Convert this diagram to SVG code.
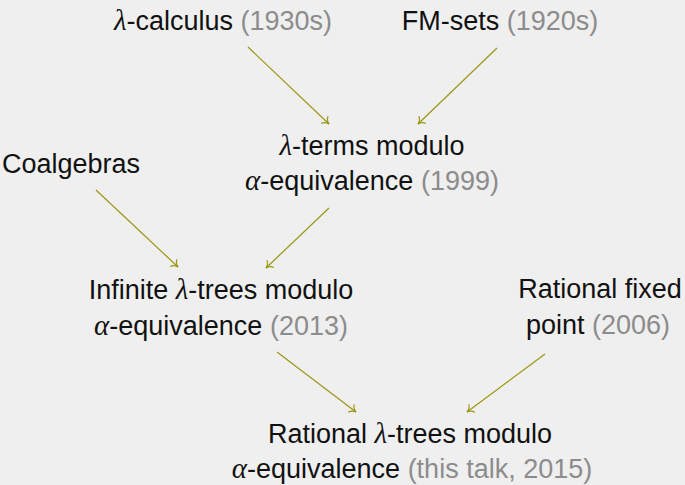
<svg xmlns="http://www.w3.org/2000/svg" width="685" height="485" viewBox="0 0 685 485">
<style>
text{font-family:"Liberation Sans",Arial,sans-serif;font-size:27px;fill:#111;text-anchor:middle}
.m{font-family:"Liberation Serif","Times New Roman",serif;font-style:italic;font-size:29px}
.g{fill:#8c8c8c}
.e{fill:none;stroke:#9c9614;stroke-width:1.2;marker-end:url(#to)}
</style>
<defs>
<marker id="to" viewBox="-8 -6 10 12" refX="0" refY="0" markerWidth="10" markerHeight="12" markerUnits="userSpaceOnUse" orient="auto">
<path d="M-6,-5 C-5,-2 -2,-0.5 0,0 C-2,0.5 -5,2 -6,5" fill="none" stroke="#9c9614" stroke-width="1.2"/>
</marker>
</defs>
<rect width="685" height="485" fill="#efefef"/>
<g id="connectors">
<line class="e" x1="248" y1="47" x2="329" y2="124"/>
<line class="e" x1="497" y1="48" x2="418" y2="124"/>
<line class="e" x1="96" y1="190" x2="178" y2="267"/>
<line class="e" x1="329" y1="208" x2="266" y2="268"/>
<line class="e" x1="277" y1="352" x2="356" y2="412"/>
<line class="e" x1="545" y1="354" x2="467" y2="412"/>
</g>
<g id="lambda-calculus"><text x="223" y="30"><tspan class="m">λ</tspan>-calculus <tspan class="g">(1930s)</tspan></text></g>
<g id="fm-sets"><text x="500" y="30">FM-sets <tspan class="g">(1920s)</tspan></text></g>
<g id="lambda-terms"><text x="372" y="155"><tspan class="m">λ</tspan>-terms modulo</text><text x="372" y="190"><tspan class="m">α</tspan>-equivalence <tspan class="g">(1999)</tspan></text></g>
<g id="coalgebras"><text x="71" y="173">Coalgebras</text></g>
<g id="infinite-trees"><text x="221" y="299">Infinite <tspan class="m">λ</tspan>-trees modulo</text><text x="221" y="335"><tspan class="m">α</tspan>-equivalence <tspan class="g">(2013)</tspan></text></g>
<g id="rational-fixed-point"><text x="600" y="298">Rational fixed</text><text x="598" y="334">point <tspan class="g">(2006)</tspan></text></g>
<g id="rational-trees"><text x="410" y="443">Rational <tspan class="m">λ</tspan>-trees modulo</text><text x="412" y="478"><tspan class="m">α</tspan>-equivalence <tspan class="g">(this talk, 2015)</tspan></text></g>
</svg>
